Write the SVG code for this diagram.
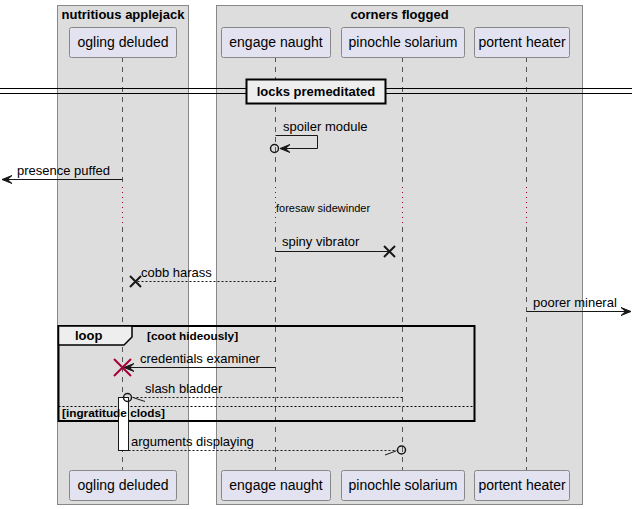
<svg xmlns="http://www.w3.org/2000/svg" width="638" height="509" viewBox="0 0 638 509">
<defs>
<style>
.grp{fill:#DDDDDD;stroke:#888888;stroke-width:1}
.gt{font-family:"Liberation Sans",Arial,sans-serif;font-size:13px;font-weight:bold;fill:#000}
.part{fill:#E2E2F0;stroke:#888888;stroke-width:1}
.pt{font-family:"Liberation Sans",Arial,sans-serif;font-size:14px;fill:#000;text-anchor:middle}
.life{stroke:#555;stroke-width:1;stroke-dasharray:5,5;fill:none}
.delay{stroke:#A80036;stroke-width:1;stroke-dasharray:1,4;fill:none}
.msg{stroke:#181818;stroke-width:1;fill:none}
.dash{stroke:#181818;stroke-width:1;stroke-dasharray:2,2;fill:none}
.mt{font-family:"Liberation Sans",Arial,sans-serif;font-size:13px;fill:#000}
.st{font-family:"Liberation Sans",Arial,sans-serif;font-size:11px;fill:#000}
.sb{font-family:"Liberation Sans",Arial,sans-serif;font-size:11.8px;font-weight:bold;fill:#000}
.ah{fill:#181818;stroke:#181818;stroke-width:1}
.x{stroke:#181818;stroke-width:2;fill:none}
.xr{stroke:#A80036;stroke-width:2;fill:none}
.circ{fill:none;stroke:#181818;stroke-width:1.5}
</style>
</defs>

<g id="group-nutritious-applejack">
<rect class="grp" x="57.5" y="5.5" width="131" height="499"/>
<text class="gt" x="123" y="19" text-anchor="middle">nutritious applejack</text>
</g>
<g id="group-corners-flogged">
<rect class="grp" x="216.5" y="5.5" width="366" height="499"/>
<text class="gt" x="399.5" y="19" text-anchor="middle">corners flogged</text>
</g>

<g id="lifelines">
<line class="life" x1="122.5" y1="57" x2="122.5" y2="187"/>
<line class="delay" x1="122.5" y1="187" x2="122.5" y2="227"/>
<line class="life" x1="122.5" y1="227" x2="122.5" y2="470"/>
<line class="life" x1="275.5" y1="57" x2="275.5" y2="187"/>
<line class="delay" x1="275.5" y1="187" x2="275.5" y2="227"/>
<line class="life" x1="275.5" y1="227" x2="275.5" y2="470"/>
<line class="life" x1="402.5" y1="57" x2="402.5" y2="187"/>
<line class="delay" x1="402.5" y1="187" x2="402.5" y2="227"/>
<line class="life" x1="402.5" y1="227" x2="402.5" y2="470"/>
<line class="life" x1="526.5" y1="57" x2="526.5" y2="187"/>
<line class="delay" x1="526.5" y1="187" x2="526.5" y2="227"/>
<line class="life" x1="526.5" y1="227" x2="526.5" y2="470"/>
</g>

<g id="p-ogling-deluded">
<rect class="part" x="69.5" y="27.5" width="107" height="30" rx="2"/>
<text class="pt" x="123" y="47">ogling deluded</text>
<rect class="part" x="69.5" y="470.5" width="107" height="30" rx="2"/>
<text class="pt" x="123" y="490">ogling deluded</text>
</g>
<g id="p-engage-naught">
<rect class="part" x="221.5" y="27.5" width="109" height="30" rx="2"/>
<text class="pt" x="276" y="47">engage naught</text>
<rect class="part" x="221.5" y="470.5" width="109" height="30" rx="2"/>
<text class="pt" x="276" y="490">engage naught</text>
</g>
<g id="p-pinochle-solarium">
<rect class="part" x="341.5" y="27.5" width="123" height="30" rx="2"/>
<text class="pt" x="403" y="47">pinochle solarium</text>
<rect class="part" x="341.5" y="470.5" width="123" height="30" rx="2"/>
<text class="pt" x="403" y="490">pinochle solarium</text>
</g>
<g id="p-portent-heater">
<rect class="part" x="474.5" y="27.5" width="95" height="30" rx="2"/>
<text class="pt" x="522" y="47">portent heater</text>
<rect class="part" x="474.5" y="470.5" width="95" height="30" rx="2"/>
<text class="pt" x="522" y="490">portent heater</text>
</g>

<g id="divider">
<line x1="0" y1="88.5" x2="632" y2="88.5" stroke="#000" stroke-width="1"/>
<line x1="0" y1="93.5" x2="632" y2="93.5" stroke="#000" stroke-width="1"/>
<rect x="246.5" y="79.5" width="139" height="24" fill="#EEEEEE" stroke="#000" stroke-width="2"/>
<text class="gt" x="316" y="96" text-anchor="middle">locks premeditated</text>
</g>

<g id="loop-frame">
<rect x="58.5" y="326" width="416" height="95" fill="none" stroke="#000" stroke-width="2"/>
<path d="M58.5,326 H132 V337 L124,345 H58.5 Z" fill="#EEEEEE" stroke="#000" stroke-width="1.5"/>
<text class="gt" x="75" y="340">loop</text>
<text class="sb" x="147" y="340">[coot hideously]</text>
<line x1="58.5" y1="406.5" x2="474.5" y2="406.5" stroke="#000" stroke-width="1" stroke-dasharray="2,2"/>
</g>

<g id="activation">
<rect x="118.5" y="397.5" width="10" height="53" fill="#FFFFFF" stroke="#181818" stroke-width="1"/>
</g>

<text class="sb" x="62" y="416.5">[ingratitude clods]</text>

<g id="connectors">
<!-- spoiler module -->
<polyline class="msg" points="275.5,135.5 317.5,135.5 317.5,148.5 280,148.5"/>
<path class="ah" d="M280,148.5 L290,144.5 L285.5,148.5 L290,152.5 Z"/>
<circle class="circ" cx="274.5" cy="148.5" r="4"/>
<text class="mt" x="283" y="131">spoiler module</text>

<!-- presence puffed -->
<line class="msg" x1="122.5" y1="179.5" x2="2" y2="179.5"/>
<path class="ah" d="M2,179.5 L12,175.5 L7.5,179.5 L12,183.5 Z"/>
<text class="mt" x="17" y="175">presence puffed</text>

<!-- foresaw sidewinder -->
<text class="st" x="276" y="212">foresaw sidewinder</text>

<!-- spiny vibrator -->
<line class="msg" x1="275.5" y1="251.5" x2="390" y2="251.5"/>
<path class="x" d="M384,246 L395,257 M395,246 L384,257"/>
<text class="mt" x="282" y="246">spiny vibrator</text>

<!-- cobb harass -->
<line class="dash" x1="275.5" y1="281.5" x2="135" y2="281.5"/>
<path class="x" d="M130,276 L141,287 M141,276 L130,287"/>
<text class="mt" x="141" y="277">cobb harass</text>

<!-- poorer mineral -->
<line class="msg" x1="526.5" y1="311.5" x2="631" y2="311.5"/>
<path class="ah" d="M631,311.5 L621,307.5 L625.5,311.5 L621,315.5 Z"/>
<text class="mt" x="533" y="307">poorer mineral</text>

<!-- credentials examiner -->
<line class="msg" x1="275.5" y1="367.5" x2="124" y2="367.5"/>
<path class="ah" d="M124,367.5 L134,363.5 L129.5,367.5 L134,371.5 Z"/>
<path class="xr" d="M114,359 L131,376 M131,359 L114,376"/>
<text class="mt" x="140" y="363">credentials examiner</text>

<!-- slash bladder -->
<line class="dash" x1="402.5" y1="397.5" x2="132" y2="397.5"/>
<circle class="circ" cx="127.5" cy="397.5" r="4"/>
<line class="msg" x1="133" y1="397.5" x2="145" y2="401.5"/>
<text class="mt" x="145" y="393">slash bladder</text>

<!-- arguments displaying -->
<line class="dash" x1="128.5" y1="450.5" x2="397.5" y2="450.5"/>
<circle class="circ" cx="401.5" cy="450" r="4"/>
<line class="msg" x1="385" y1="455" x2="396" y2="451"/>
<text class="mt" x="131" y="446">arguments displaying</text>
</g>
</svg>
